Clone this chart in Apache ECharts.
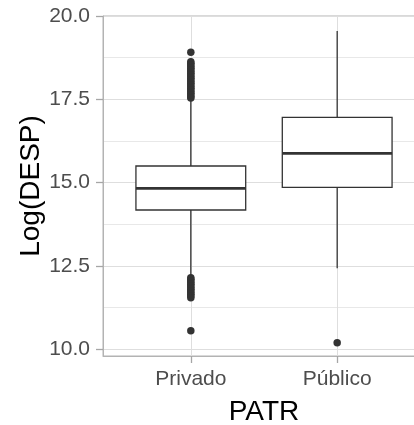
<!DOCTYPE html>
<html>
<head>
<meta charset="utf-8">
<script src="https://cdn.jsdelivr.net/npm/echarts@6/dist/echarts.min.js"></script>
<style>
  html, body { margin: 0; padding: 0; background: #fff; }
  #main { width: 414px; height: 425px; }
</style>
</head>
<body>
<div id="main"></div>
<script>
const categories = ['Privado', 'Público'];
// [low whisker, q1, median, q3, high whisker]
const boxStats = [
  [12.2, 14.18, 14.83, 15.5, 17.5],
  [12.43, 14.86, 15.88, 16.96, 19.55]
];
const privadoOutliers = [
  18.91, 18.63, 18.58, 18.53, 18.48, 18.43, 18.38, 18.33, 18.28, 18.23, 18.18,
  18.13, 18.08, 18.03, 17.98, 17.93, 17.88, 17.83, 17.78, 17.73, 17.68, 17.63,
  17.58, 17.54,
  12.15, 12.1, 12.05, 12.0, 11.95, 11.9, 11.85, 11.8, 11.75, 11.7, 11.65, 11.6,
  11.55, 10.56
];
const publicoOutliers = [10.2];
const yTicks = [10, 12.5, 15, 17.5, 20];
const yMinor = [11.25, 13.75, 16.25, 18.75];

const chart = echarts.init(document.getElementById('main'));

const boxData = boxStats.map((s, i) => [i + 1].concat(s));
const outData = privadoOutliers.map(v => [1, v]).concat(publicoOutliers.map(v => [2, v]));

const font = 'Liberation Sans, Arial, sans-serif';
const borderGrey = '#b3b3b3';
const tickGrey = '#a6a6a6';

chart.setOption({
  animation: false,
  grid: {
    left: 103, top: 16, width: 322, height: 340,
    outerBoundsMode: 'none',
    show: true, borderColor: borderGrey, borderWidth: 1, backgroundColor: 'transparent'
  },
  xAxis: {
    type: 'value', min: 0.4, max: 2.6,
    name: 'PATR', nameLocation: 'middle', nameGap: 42, nameMoveOverlap: false,
    nameTextStyle: { fontSize: 28, color: '#000', fontFamily: font },
    axisLine: { show: true, lineStyle: { color: borderGrey, width: 1 } },
    axisTick: { show: true, inside: false, length: 7, customValues: [1, 2], lineStyle: { color: tickGrey, width: 1.3 } },
    axisLabel: {
      customValues: [1, 2], margin: 13, fontSize: 21, color: '#4d4d4d', fontFamily: font,
      formatter: v => categories[Math.round(v) - 1]
    },
    splitLine: { show: true, lineStyle: { color: '#dedede', width: 1 } }
  },
  yAxis: [{
    type: 'value', min: 9.8, max: 20,
    name: 'Log(DESP)', nameLocation: 'middle', nameGap: 58, nameMoveOverlap: false,
    nameTextStyle: { fontSize: 28, color: '#000', fontFamily: font },
    axisLine: { show: true, lineStyle: { color: borderGrey, width: 1 } },
    axisTick: { show: true, inside: false, length: 7, customValues: yTicks, lineStyle: { color: tickGrey, width: 1.3 } },
    axisLabel: {
      customValues: yTicks, margin: 13, fontSize: 21, color: '#4d4d4d', fontFamily: font,
      formatter: v => v.toFixed(1)
    },
    splitLine: { show: true, lineStyle: { color: '#dedede', width: 1 } }
  }, {
    type: 'value', min: 9.8, max: 20, position: 'left',
    axisLine: { show: false },
    axisTick: { show: false, customValues: yMinor },
    axisLabel: { show: false, customValues: yMinor },
    splitLine: { show: true, lineStyle: { color: '#e8e8e8', width: 1 } }
  }],
  series: [{
    type: 'custom',
    yAxisIndex: 0,
    data: boxData,
    renderItem: (params, api) => {
      const x = api.value(0);
      const half = 0.375;
      const p = k => api.coord([x, api.value(k)]);
      const lo = p(1), q1 = p(2), med = p(3), q3 = p(4), hi = p(5);
      const left = api.coord([x - half, 0])[0];
      const right = api.coord([x + half, 0])[0];
      const stroke = { stroke: '#333333', lineWidth: 1.3 };
      return {
        type: 'group',
        children: [
          { type: 'line', shape: { x1: lo[0], y1: lo[1], x2: q1[0], y2: q1[1] }, style: stroke },
          { type: 'line', shape: { x1: q3[0], y1: q3[1], x2: hi[0], y2: hi[1] }, style: stroke },
          { type: 'rect', shape: { x: left, y: q3[1], width: right - left, height: q1[1] - q3[1] },
            style: { fill: '#fff', stroke: '#333333', lineWidth: 1.3 } },
          { type: 'line', shape: { x1: left, y1: med[1], x2: right, y2: med[1] },
            style: { stroke: '#333333', lineWidth: 2.8 } }
        ]
      };
    }
  }, {
    type: 'scatter',
    yAxisIndex: 0,
    data: outData,
    symbolSize: 7.5,
    itemStyle: { color: '#333333', opacity: 1 }
  }]
});
</script>
</body>
</html>
